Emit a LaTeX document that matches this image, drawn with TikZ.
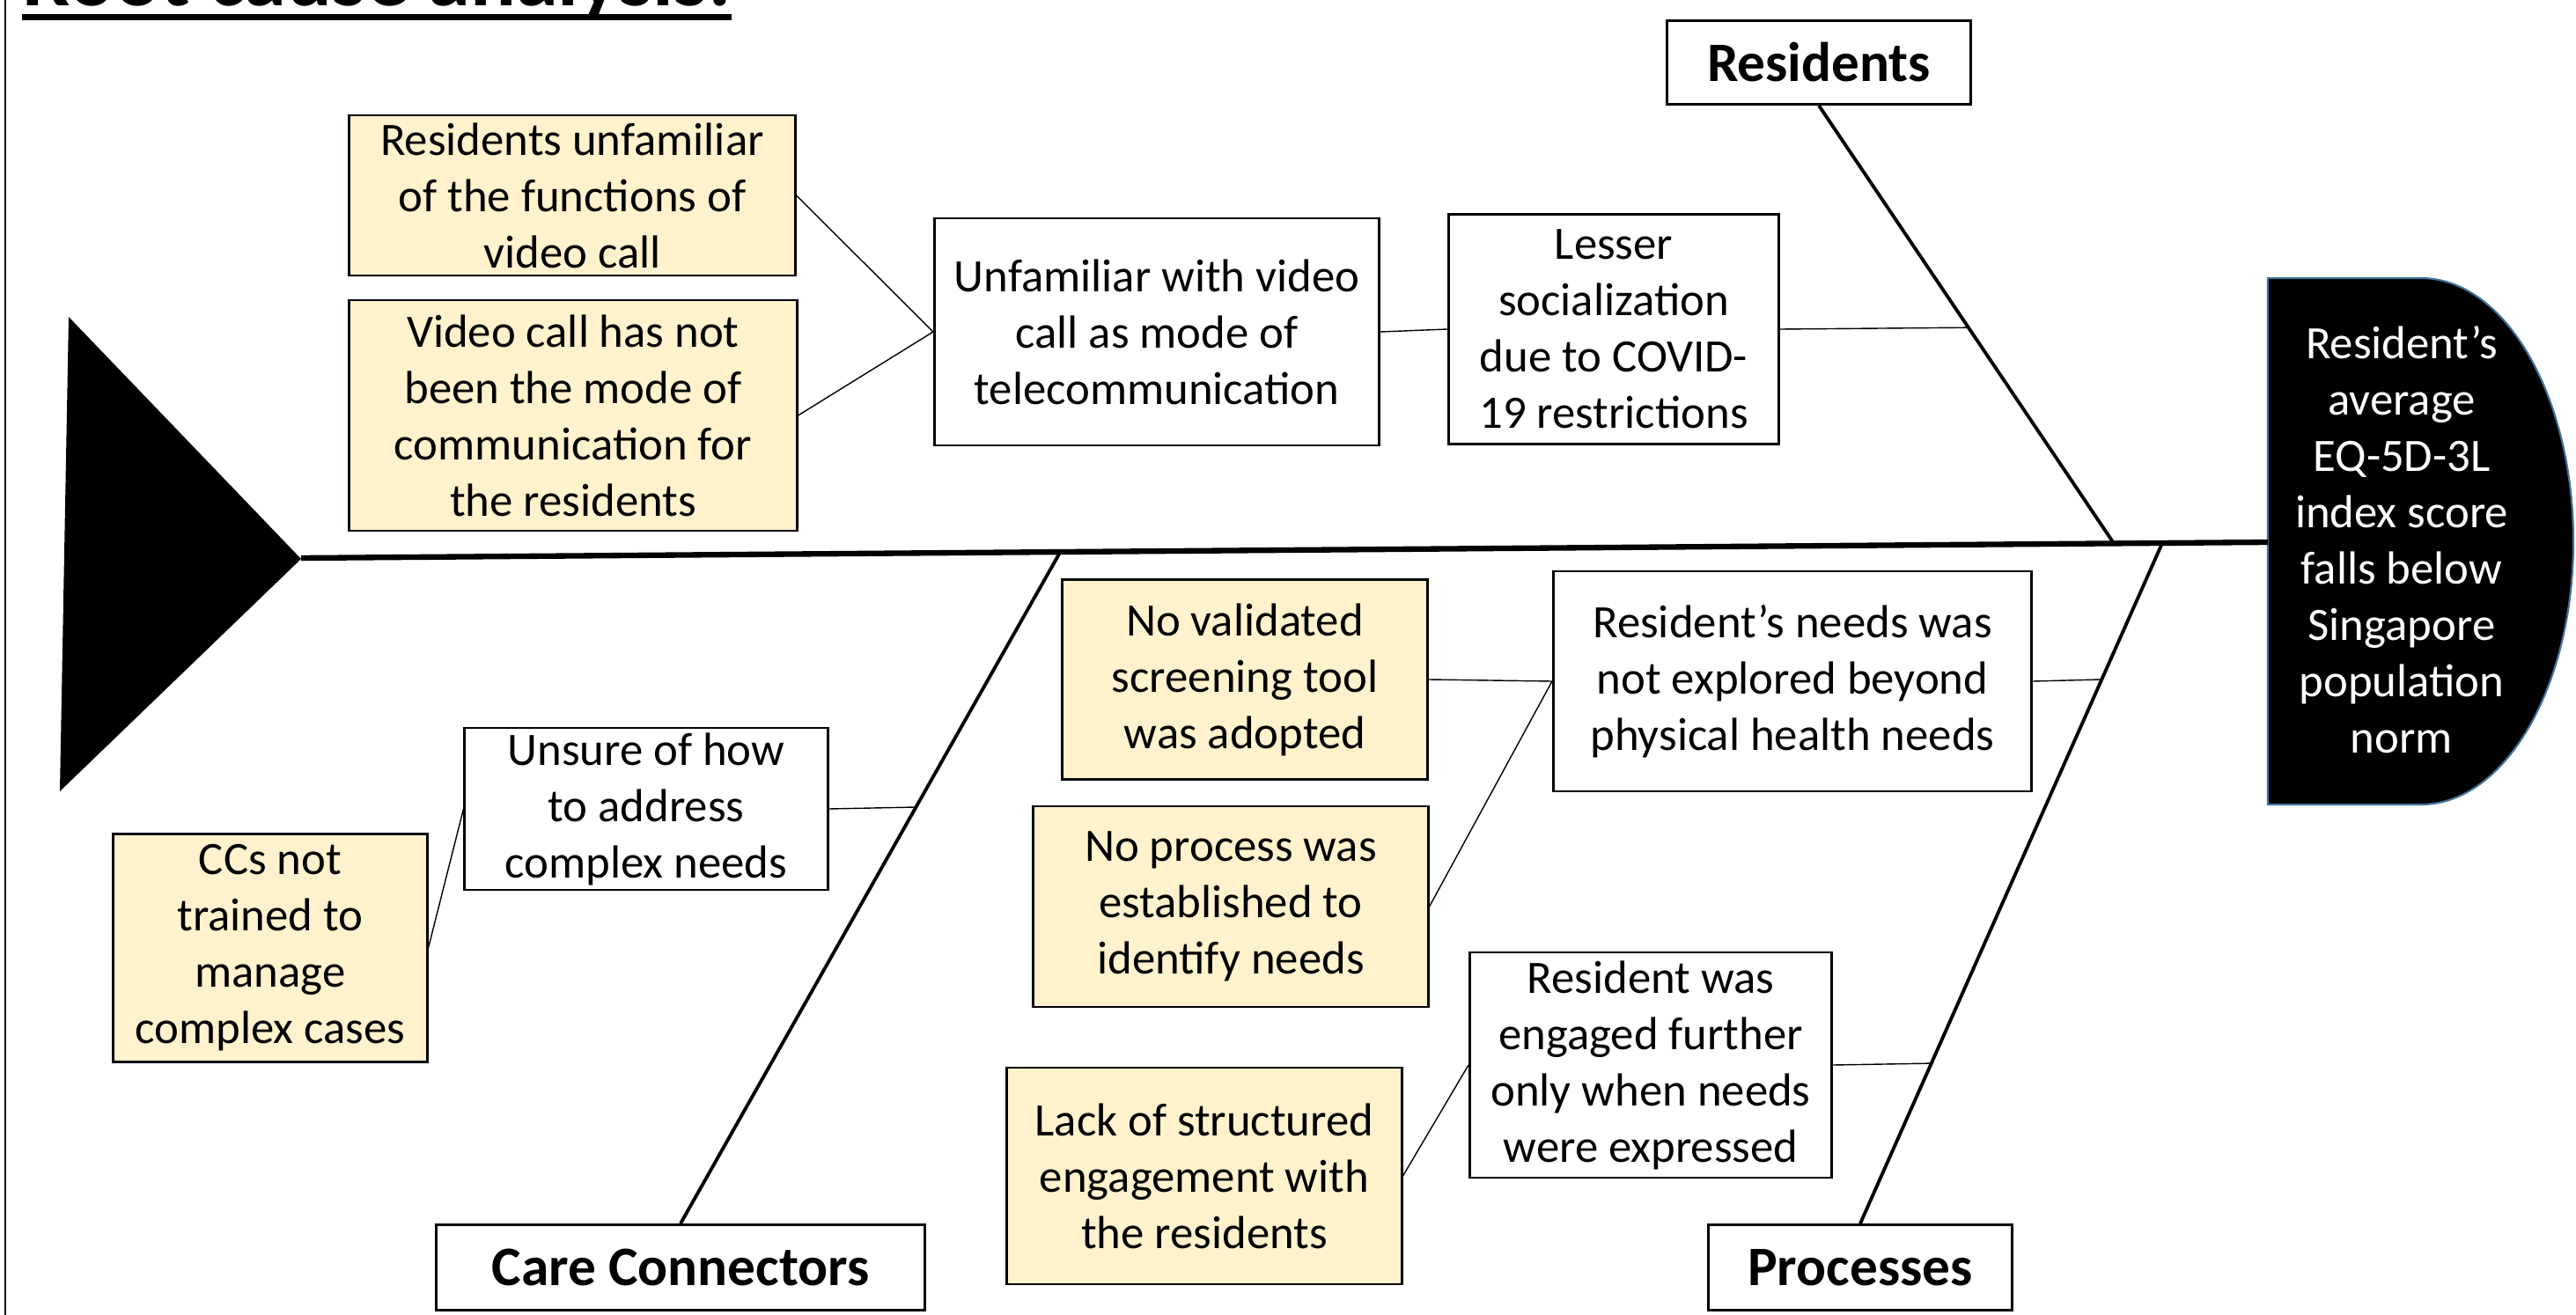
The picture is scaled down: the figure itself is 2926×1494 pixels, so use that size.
\documentclass[tikz,border=0pt]{standalone}
\usepackage{fontspec}
\setmainfont{Carlito}
\usepackage{tikz}
\usetikzlibrary{calc}
\definecolor{rootfill}{HTML}{FFF2CC}
\definecolor{headline}{HTML}{41719C}

\begin{document}
\begin{tikzpicture}[x=0.01cm, y=-0.01cm,
  cause/.style={draw, line width=0.8pt, fill=white, align=center, inner sep=0pt, font=\fontsize{15}{18.2}\selectfont},
  root/.style={cause, fill=rootfill},
  bone/.style={draw, line width=0.8pt, fill=white, inner sep=0pt, font=\fontsize{18}{21}\selectfont\bfseries},
  twig/.style={line width=0.4pt}]
\useasboundingbox (0,0) rectangle (2926,1494);

% title, cut by the page top
\node[anchor=base west, inner sep=0pt, font=\fontsize{27.5}{33}\selectfont\bfseries] (title) at (25,7) {Root cause analysis:};
\draw[line width=2pt] ([yshift=-3.6pt]title.base west) -- ([yshift=-3.6pt]title.base east);
\draw[line width=0.5pt] (6,0) -- (6,1494);

% tail and head
\fill (78,360) -- (68,899) -- (342,635) -- cycle;
\coordinate (tail) at (342,634);
\filldraw[fill=black, draw=headline, line width=0.6pt] (2576,316) -- (2750,316) arc[start angle=-90, end angle=90, x radius=173, y radius=299] -- (2576,914) -- cycle;
\coordinate (hj) at (2576,616);
\node[text=white, align=center, font=\fontsize{15}{18.2}\selectfont] (effect) at (2728,613) {Resident’s\\average\\EQ-5D-3L\\index score\\falls below\\Singapore\\population\\norm};
\draw[line width=1.8pt] (tail) -- (hj);

% categories
\node[bone, minimum width=3.45cm, minimum height=0.95cm] (res) at (2066,71) {Residents};
\node[bone, minimum width=3.45cm, minimum height=0.97cm] (proc) at (2113,1440) {Processes};
\node[bone, minimum width=5.55cm, minimum height=0.97cm] (cc) at (773,1440) {Care Connectors};

\coordinate (rj) at ($(tail)!0.9217!(hj)$);
\coordinate (pj) at ($(tail)!0.9463!(hj)$);
\coordinate (cj) at ($(tail)!0.386!(hj)$);
\draw[line width=1.1pt] (res.south) -- (rj) (proc.north) -- (pj) (cc.north) -- (cj);

\coordinate (r1) at ($(res.south)!0.507!(rj)$);
\coordinate (c1) at ($(cj)!0.380!(cc.north)$);
\coordinate (p1) at ($(pj)!0.2005!(proc.north)$);
\coordinate (p2) at ($(pj)!0.7646!(proc.north)$);

% causes
\node[cause, minimum width=3.75cm, minimum height=2.61cm] (lesser) at (1833,374) {Lesser\\socialization\\due to COVID-\\19 restrictions};
\node[cause, minimum width=5.05cm, minimum height=2.58cm] (unfam) at (1314,377) {Unfamiliar with video\\call as mode of\\telecommunication};
\node[root, minimum width=5.06cm, minimum height=1.82cm] (func) at (650,222) {Residents unfamiliar\\of the functions of\\video call};
\node[root, minimum width=5.08cm, minimum height=2.62cm] (notmode) at (651,472) {Video call has not\\been the mode of\\communication for\\the residents};

\node[cause, minimum width=4.12cm, minimum height=1.84cm] (unsure) at (734,919) {Unsure of how\\to address\\complex needs};
\node[root, minimum width=3.56cm, minimum height=2.59cm] (cctrain) at (307,1077) {CCs not\\trained to\\manage\\complex cases};

\node[cause, minimum width=5.43cm, minimum height=2.50cm] (needs) at (2036,774) {Resident’s needs was\\not explored beyond\\physical health needs};
\node[root, minimum width=4.15cm, minimum height=2.27cm] (tool) at (1414,772) {No validated\\screening tool\\was adopted};
\node[root, minimum width=4.48cm, minimum height=2.28cm] (noproc) at (1398,1030) {No process was\\established to\\identify needs};
\node[cause, minimum width=4.11cm, minimum height=2.56cm] (engaged) at (1875,1210) {Resident was\\engaged further\\only when needs\\were expressed};
\node[root, minimum width=4.48cm, minimum height=2.46cm] (lack) at (1368,1336) {Lack of structured\\engagement with\\the residents};

\draw[twig] (func.east) edge (unfam.west)
  (notmode.east) edge (unfam.west)
  (unfam.east) edge (lesser.west)
  (lesser.east) edge (r1)
  (cctrain.east) edge (unsure.west)
  (unsure.east) edge (c1)
  (tool.east) edge (needs.west)
  (noproc.east) edge (needs.west)
  (needs.east) edge (p1)
  (lack.east) edge (engaged.west)
  (engaged.east) edge (p2);

\end{tikzpicture}
\end{document}
